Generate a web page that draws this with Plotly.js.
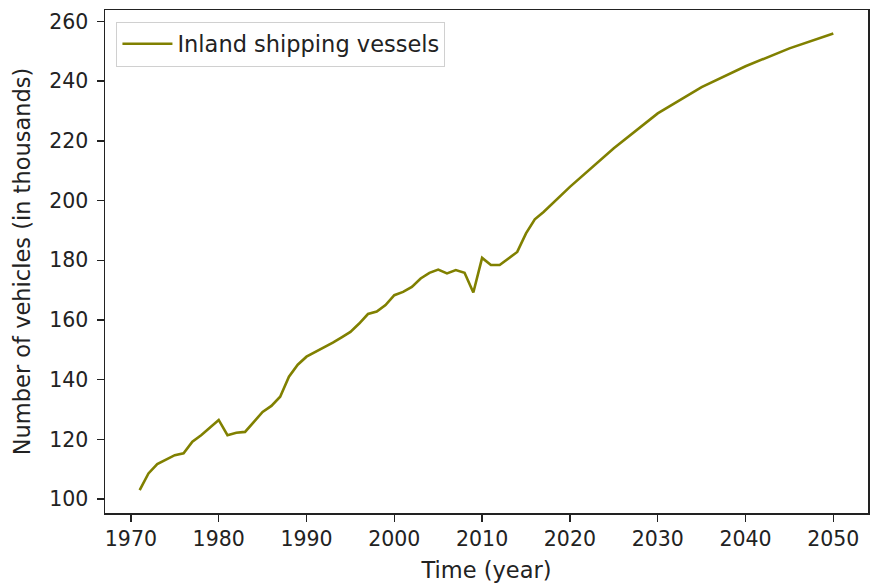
<!DOCTYPE html>
<html>
<head>
<meta charset="utf-8">
<script src="https://cdn.plot.ly/plotly-3.0.1.min.js"></script>
<style>
  html, body { margin: 0; padding: 0; background: #fff; }
  #chart { width: 870px; height: 585px; }
</style>
</head>
<body>
<div id="chart"></div>
<script>
// values (thousands of vessels)
const years = [
  1971, 1972, 1973, 1974, 1975, 1976, 1977, 1978, 1979, 1980,
  1981, 1982, 1983, 1984, 1985, 1986, 1987, 1988, 1989, 1990,
  1991, 1992, 1993, 1994, 1995, 1996, 1997, 1998, 1999, 2000,
  2001, 2002, 2003, 2004, 2005, 2006, 2007, 2008, 2009, 2010,
  2011, 2012, 2013, 2014, 2015, 2016, 2017, 2018, 2019, 2020,
  2025, 2030, 2035, 2040, 2045, 2050
];
const vessels = [
  103.0, 108.6, 111.7, 113.3, 114.7, 115.3, 119.2, 121.4, 124.0, 126.5,
  121.4, 122.2, 122.5, 125.9, 129.2, 131.2, 134.3, 141.0, 145.0, 147.7,
  149.3, 150.7, 152.4, 154.2, 156.0, 158.8, 162.0, 162.8, 165.0, 168.3,
  169.4, 171.1, 173.9, 175.8, 176.9, 175.6, 176.7, 175.8, 169.2, 180.8,
  178.4, 178.4, 180.6, 182.8, 189.0, 193.7, 196.2, 199.0, 201.8, 204.6,
  217.5, 229.2, 238.0, 245.0, 251.0, 256.0
];
const xTicks = [1970, 1980, 1990, 2000, 2010, 2020, 2030, 2040, 2050];
const yTicks = [100, 120, 140, 160, 180, 200, 220, 240, 260];

const tickFont = { family: 'DejaVu Sans', size: 20.5, color: '#222' };
const labelFont = { family: 'DejaVu Sans', size: 22.5, color: '#222' };

const trace = {
  x: years,
  y: vessels,
  type: 'scatter',
  mode: 'lines',
  name: 'Inland shipping vessels',
  line: { color: '#808000', width: 2.6 }
};

const axisCommon = {
  showgrid: false,
  zeroline: false,
  showline: true,
  mirror: true,
  linecolor: '#222',
  linewidth: 1.5,
  ticks: 'outside',
  ticklen: 7,
  tickwidth: 1.5,
  tickcolor: '#222',
  tickfont: tickFont,
  tickmode: 'array'
};

const layout = {
  width: 870,
  height: 585,
  margin: { l: 105, r: 2, t: 10, b: 72 },
  paper_bgcolor: '#fff',
  plot_bgcolor: '#fff',
  font: tickFont,
  showlegend: true,
  legend: {
    x: 0.015, y: 0.977,
    xanchor: 'left', yanchor: 'top',
    bgcolor: 'rgba(255,255,255,0.8)',
    bordercolor: '#d0d0d0',
    borderwidth: 1,
    itemwidth: 50,
    font: labelFont
  },
  xaxis: Object.assign({}, axisCommon, {
    range: [1967.05, 2053.95],
    tickvals: xTicks,
    title: { text: 'Time (year)', font: labelFont, standoff: 12 }
  }),
  yaxis: Object.assign({}, axisCommon, {
    range: [95.33, 263.85],
    tickvals: yTicks,
    ticklabelstandoff: 4,
    title: { text: 'Number of vehicles (in thousands)', font: labelFont, standoff: 12 }
  })
};

Plotly.newPlot('chart', [trace], layout, { staticPlot: true });
</script>
</body>
</html>
